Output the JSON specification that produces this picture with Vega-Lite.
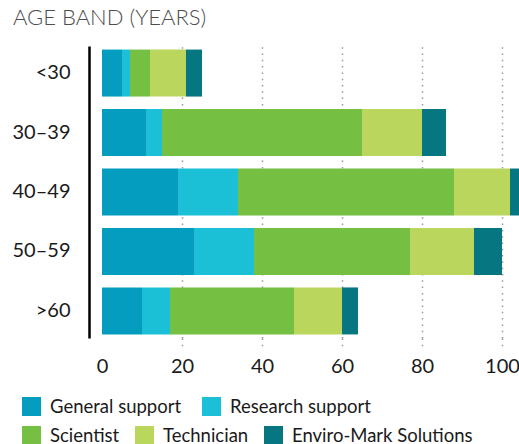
{
  "$schema": "https://vega.github.io/schema/vega-lite/v6.json",
  "width": 417,
  "height": 292,
  "autosize": {"type": "none"},
  "padding": {"left": 102, "top": 46, "right": 0, "bottom": 106},
  "background": "white",
  "title": {"text": "AGE BAND (YEARS)", "anchor": "start", "frame": "group", "dx": -89, "offset": 16, "font": "Lato", "fontSize": 22, "fontWeight": 300, "color": "#4d4d4d"},
  "config": {"view": {"stroke": null}, "legend": {"padding": 0}},
  "datasets": {
    "roleOrder": [
      {"role": "General support", "rank": 1},
      {"role": "Research support", "rank": 2},
      {"role": "Scientist", "rank": 3},
      {"role": "Technician", "rank": 4},
      {"role": "Enviro-Mark Solutions", "rank": 5}
    ],
    "staff": [
      {"age": "<30", "role": "General support", "value": 5},
      {"age": "<30", "role": "Research support", "value": 2},
      {"age": "<30", "role": "Scientist", "value": 5},
      {"age": "<30", "role": "Technician", "value": 9},
      {"age": "<30", "role": "Enviro-Mark Solutions", "value": 4},
      {"age": "30–39", "role": "General support", "value": 11},
      {"age": "30–39", "role": "Research support", "value": 4},
      {"age": "30–39", "role": "Scientist", "value": 50},
      {"age": "30–39", "role": "Technician", "value": 15},
      {"age": "30–39", "role": "Enviro-Mark Solutions", "value": 6},
      {"age": "40–49", "role": "General support", "value": 19},
      {"age": "40–49", "role": "Research support", "value": 15},
      {"age": "40–49", "role": "Scientist", "value": 54},
      {"age": "40–49", "role": "Technician", "value": 14},
      {"age": "40–49", "role": "Enviro-Mark Solutions", "value": 4},
      {"age": "50–59", "role": "General support", "value": 23},
      {"age": "50–59", "role": "Research support", "value": 15},
      {"age": "50–59", "role": "Scientist", "value": 39},
      {"age": "50–59", "role": "Technician", "value": 16},
      {"age": "50–59", "role": "Enviro-Mark Solutions", "value": 7},
      {"age": ">60", "role": "General support", "value": 10},
      {"age": ">60", "role": "Research support", "value": 7},
      {"age": ">60", "role": "Scientist", "value": 31},
      {"age": ">60", "role": "Technician", "value": 12},
      {"age": ">60", "role": "Enviro-Mark Solutions", "value": 4}
    ]
  },
  "data": {"name": "staff"},
  "resolve": {"scale": {"color": "independent"}},
  "layer": [
    {
      "transform": [{"lookup": "role", "from": {"data": {"name": "roleOrder"}, "key": "role", "fields": ["rank"]}}],
      "mark": {"type": "bar", "clip": true},
      "encoding": {
        "y": {"field": "age", "type": "nominal", "sort": ["<30", "30–39", "40–49", "50–59", ">60"],
          "scale": {"paddingInner": 0.21, "paddingOuter": 0.06},
          "axis": {"title": null, "domainColor": "#000000", "domainWidth": 2.5, "offset": 13, "ticks": false, "tickSize": 0, "labelPadding": 19, "labelFont": "Lato", "labelFontSize": 20, "labelColor": "#1a1a1a", "grid": false}},
        "x": {"field": "value", "type": "quantitative", "stack": "zero",
          "scale": {"domain": [0, 104.25], "nice": false},
          "axis": {"title": null, "domain": false, "values": [0, 20, 40, 60, 80, 100], "grid": true,
            "gridColor": {"condition": {"test": "datum.value === 0", "value": "transparent"}, "value": "#9a9a9a"},
            "gridDash": [1.5, 4.8], "gridWidth": 1.5,
            "tickColor": {"condition": {"test": "datum.value === 0", "value": "transparent"}, "value": "#9a9a9a"},
            "tickDash": [1.5, 4.8], "tickWidth": 1.5, "tickSize": 9,
            "labelPadding": 9, "labelFont": "Lato", "labelFontSize": 20, "labelColor": "#1a1a1a", "labelFlush": false}},
        "color": {"field": "role", "type": "nominal",
          "scale": {"domain": ["General support", "Research support", "Scientist", "Technician", "Enviro-Mark Solutions"],
            "range": ["#049dbf", "#1cc0d6", "#75bf43", "#bbd65c", "#067680"]},
          "legend": null},
        "order": {"field": "rank", "type": "quantitative", "sort": "ascending"}
      }
    },
    {
      "transform": [{"filter": {"field": "role", "oneOf": ["General support", "Research support"]}}],
      "mark": {"type": "square", "opacity": 0},
      "encoding": {
        "color": {"field": "role", "type": "nominal",
          "scale": {"domain": ["General support", "Research support"], "range": ["#049dbf", "#1cc0d6"]},
          "legend": {"orient": "none", "legendX": -80, "legendY": 351, "direction": "horizontal", "title": null,
            "symbolType": "square", "symbolSize": 361, "symbolOpacity": 1, "symbolStrokeWidth": 0,
            "labelFont": "Lato", "labelFontSize": 18.5, "labelColor": "#1a1a1a", "labelOffset": 9, "labelLimit": 400, "columnPadding": 20}}
      }
    },
    {
      "transform": [{"filter": {"field": "role", "oneOf": ["Scientist", "Technician", "Enviro-Mark Solutions"]}}],
      "mark": {"type": "square", "opacity": 0},
      "encoding": {
        "color": {"field": "role", "type": "nominal",
          "scale": {"domain": ["Scientist", "Technician", "Enviro-Mark Solutions"], "range": ["#75bf43", "#bbd65c", "#067680"]},
          "legend": {"orient": "none", "legendX": -80, "legendY": 380, "direction": "horizontal", "title": null,
            "symbolType": "square", "symbolSize": 361, "symbolOpacity": 1, "symbolStrokeWidth": 0,
            "labelFont": "Lato", "labelFontSize": 18.5, "labelColor": "#1a1a1a", "labelOffset": 9, "labelLimit": 400, "columnPadding": 15}}
      }
    }
  ]
}
